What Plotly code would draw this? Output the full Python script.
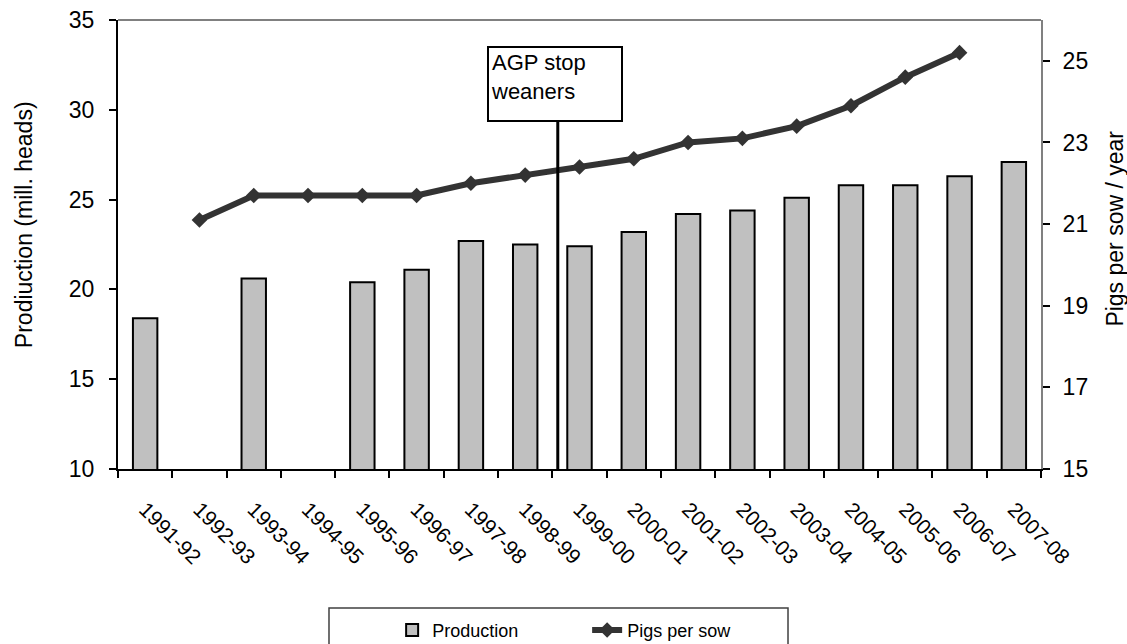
import plotly.graph_objects as go

# Seasons on the category axis
seasons = ["1991-92", "1992-93", "1993-94", "1994-95", "1995-96", "1996-97",
           "1997-98", "1998-99", "1999-00", "2000-01", "2001-02", "2002-03",
           "2003-04", "2004-05", "2005-06", "2006-07", "2007-08"]

# Production, million heads (left axis)
production = [18.4, None, 20.6, None, 20.4, 21.1, 22.7, 22.5, 22.4, 23.2,
              24.2, 24.4, 25.1, 25.8, 25.8, 26.3, 27.1]

# Pigs per sow per year (right axis)
pigs_per_sow = [None, 21.1, 21.7, 21.7, 21.7, 21.7, 22.0, 22.2, 22.4, 22.6,
                23.0, 23.1, 23.4, 23.9, 24.6, 25.2, None]

left_ticks = [10, 15, 20, 25, 30, 35]
right_ticks = [15, 17, 19, 21, 23, 25]

# Position of the AGP stop marker, in category units
agp_stop_pos = 7.6

FONT = "Arial, 'Liberation Sans', sans-serif"

fig = go.Figure()

fig.add_trace(go.Bar(
    x=seasons, y=production, name="Production",
    width=0.45,
    marker=dict(color="#c0c0c0", line=dict(color="#000000", width=2)),
    yaxis="y",
))

fig.add_trace(go.Scatter(
    x=seasons, y=pigs_per_sow, name="Pigs per sow",
    mode="lines+markers",
    line=dict(color="#333333", width=6),
    marker=dict(symbol="diamond", size=12, color="#333333"),
    yaxis="y2",
))

x_tick_font = dict(family=FONT, size=21, color="#000000")
y_tick_font = dict(family=FONT, size=23, color="#000000")
title_font = dict(family=FONT, size=23, color="#000000")

fig.update_layout(
    width=1127, height=644,
    margin=dict(l=118, r=86, t=20, b=175, autoexpand=False),
    paper_bgcolor="#ffffff", plot_bgcolor="#ffffff",
    font=dict(family=FONT, color="#000000"),
    xaxis=dict(
        type="category", categoryorder="array", categoryarray=seasons,
        range=[-0.5, len(seasons) - 0.5],
        tickson="boundaries", ticks="outside", ticklen=7, tickwidth=1.5,
        tickcolor="#000000", tickangle=45, tickfont=x_tick_font,
        ticklabelstandoff=18,
        showline=True, linecolor="#000000", linewidth=2,
        showgrid=False, zeroline=False,
    ),
    xaxis2=dict(
        overlaying="x", anchor="y", range=[-0.5, len(seasons) - 0.5],
        tick0=-0.5, dtick=1, ticks="inside", ticklen=7, tickwidth=1.5,
        tickcolor="#000000", showticklabels=False, showgrid=False,
        zeroline=False, showline=False,
    ),
    yaxis=dict(
        range=[10, 35], tickvals=left_ticks, ticks="outside", ticklen=7,
        tickwidth=1.5, tickcolor="#000000", tickfont=y_tick_font,
        ticklabelstandoff=10,
        showline=True, linecolor="#000000", linewidth=2,
        showgrid=False, zeroline=False,
    ),
    yaxis3=dict(
        overlaying="y", side="left", anchor="x", range=[10, 35],
        tickvals=left_ticks, ticks="inside", ticklen=7, tickwidth=1.5,
        tickcolor="#000000", showticklabels=False, showgrid=False,
        zeroline=False, showline=False,
    ),
    yaxis2=dict(
        overlaying="y", side="right", anchor="x", range=[15, 26],
        tickvals=right_ticks, ticks="outside", ticklen=7, tickwidth=1.5,
        tickcolor="#000000", tickfont=y_tick_font,
        ticklabelstandoff=8,
        showline=True, linecolor="#808080", linewidth=2,
        showgrid=False, zeroline=False,
    ),
    yaxis4=dict(
        overlaying="y", side="right", anchor="x", range=[15, 26],
        tickvals=right_ticks, ticks="inside", ticklen=7, tickwidth=1.5,
        tickcolor="#000000", showticklabels=False, showgrid=False,
        zeroline=False, showline=False,
    ),
    showlegend=True,
    legend=dict(
        orientation="h", x=0.297, xanchor="left", y=-0.318, yanchor="top",
        font=dict(family=FONT, size=18, color="#000000"),
        entrywidth=150, bgcolor="rgba(0,0,0,0)", borderwidth=0,
        traceorder="normal",
    ),
)

# Axis titles
fig.add_annotation(
    xref="paper", yref="paper", x=-0.102, y=0.545,
    xanchor="center", yanchor="middle", textangle=-90, showarrow=False,
    text="Prodiuction (mill. heads)", font=title_font,
)
fig.add_annotation(
    xref="paper", yref="paper", x=1.080, y=0.535,
    xanchor="center", yanchor="middle", textangle=-90, showarrow=False,
    text="Pigs per sow / year", font=title_font,
)

# Top border of the plot area
fig.add_shape(type="line", xref="paper", yref="paper", x0=0, x1=1, y0=1, y1=1,
              line=dict(color="#808080", width=2), layer="above")

# Legend frame
fig.add_shape(type="rect", xref="paper", yref="paper",
              x0=0.2286, x1=0.7259, y0=-0.43, y1=-0.3096,
              line=dict(color="#404040", width=1.5), fillcolor="rgba(0,0,0,0)")

# AGP stop marker line and label
fig.add_shape(type="line", xref="x", yref="paper",
              x0=agp_stop_pos, x1=agp_stop_pos, y0=0, y1=0.7728,
              line=dict(color="#000000", width=3), layer="above")

fig.add_annotation(
    xref="paper", yref="paper", x=0.3998, y=0.9421,
    xanchor="left", yanchor="top",
    text="AGP stop<br>weaners", showarrow=False, align="left", valign="top",
    width=128, height=68, borderpad=2,
    bordercolor="#000000", borderwidth=2, bgcolor="#ffffff",
    font=dict(family=FONT, size=22, color="#000000"),
)

fig.write_html("out.html")
